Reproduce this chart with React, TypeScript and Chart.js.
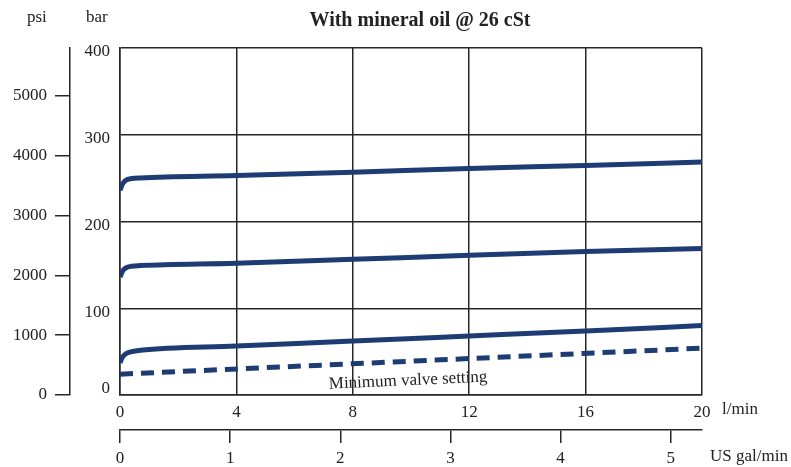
import React, { useEffect, useRef } from "react";
import { Chart, registerables } from "chart.js";

Chart.register(...registerables);

// Flow in l/min
const flowPts = [0, 0.08, 0.2, 0.4, 0.7, 4, 8, 12, 16, 20];
const pressTop = [236, 243, 247.5, 249.5, 250.2, 252.9, 256.8, 261.1, 264.6, 268.6];
const pressMid = [136, 142.5, 146.5, 148.5, 149.2, 151.9, 156.4, 161, 165.3, 169];
const pressLow = [37, 43.5, 47.5, 50, 51.7, 56.5, 62.2, 68, 73.8, 80];
const flowMin = [0, 20];
const pressMin = [24, 54];

const barTicks = [0, 100, 200, 300, 400];
const psiTicks = [0, 1000, 2000, 3000, 4000, 5000];
const lminTicks = [0, 4, 8, 12, 16, 20];
const galTicks = [0, 1, 2, 3, 4, 5];

const PSI_PER_BAR = 14.5038;
const L_PER_GAL = 3.78541;

const titleText = "With mineral oil @ 26 cSt";
const minLabel = "Minimum valve setting";

const NAVY = "#1e3c74";
const GRID = "#262626";
const TXT = "#222";
const FONT = "'Liberation Serif', 'Times New Roman', serif";
const FS = 17;

const toXY = (xs: number[], ys: number[]) => xs.map((x, i) => ({ x, y: ys[i] }));

const extras = {
  id: "extras",
  afterDraw(chart: any) {
    const ctx = chart.ctx;
    const xs = chart.scales.x;
    const ys = chart.scales.y;
    ctx.save();
    ctx.fillStyle = TXT;
    ctx.textBaseline = "middle";
    // title
    ctx.font = `bold 20px ${FONT}`;
    ctx.textAlign = "center";
    ctx.fillText(titleText, 420, 21);
    // unit headers
    ctx.font = `${FS}px ${FONT}`;
    ctx.textAlign = "left";
    ctx.fillText("psi", 27, 18);
    ctx.fillText("bar", 86, 18);
    ctx.fillText("l/min", 722, 410);
    ctx.fillText("US gal/min", 710, 457);
    // bar "0" label
    ctx.textAlign = "right";
    ctx.fillText("0", 110, ys.getPixelForValue(0) - 6);
    // minimum valve setting label along dashed line
    const x0 = xs.getPixelForValue(flowMin[0]);
    const y0 = ys.getPixelForValue(pressMin[0]);
    const x1 = xs.getPixelForValue(flowMin[1]);
    const y1 = ys.getPixelForValue(pressMin[1]);
    const ang = Math.atan2(y1 - y0, x1 - x0);
    ctx.translate(xs.getPixelForValue(9.9), ys.getPixelForValue(16.5));
    ctx.rotate(ang);
    ctx.textAlign = "center";
    ctx.fillText(minLabel, 0, 0);
    ctx.restore();
  },
};

export default function App() {
  const ref = useRef<HTMLCanvasElement>(null);
  useEffect(() => {
    if (!ref.current) return;
    const lineDs = (data: any, dashed = false) => ({
      data,
      borderColor: NAVY,
      backgroundColor: NAVY,
      borderWidth: 5,
      pointRadius: 0,
      cubicInterpolationMode: "monotone" as const,
      borderDash: dashed ? [13, 8] : [],
      borderCapStyle: "butt" as const,
      fill: false,
    });
    const tickFont = { family: FONT, size: FS };
    const chart = new Chart(ref.current, {
      type: "line",
      data: {
        datasets: [
          lineDs(toXY(flowPts, pressTop)),
          lineDs(toXY(flowPts, pressMid)),
          lineDs(toXY(flowPts, pressLow)),
          lineDs(toXY(flowMin, pressMin), true),
        ],
      },
      options: {
        responsive: false,
        animation: false,
        devicePixelRatio: 1,
        layout: { padding: { top: 48, right: 89, left: 0, bottom: 0 } },
        plugins: { legend: { display: false }, tooltip: { enabled: false }, title: { display: false } },
        scales: {
          x: {
            type: "linear",
            position: "bottom",
            weight: 0,
            min: 0,
            max: 20,
            afterBuildTicks: (s: any) => { s.ticks = lminTicks.map((v) => ({ value: v })); },
            afterFit: (s: any) => { s.height = 35; },
            grid: { color: GRID, lineWidth: 1.5, drawTicks: false },
            border: { color: GRID, width: 1.5 },
            ticks: { color: TXT, font: tickFont, padding: 7, maxRotation: 0, autoSkip: false },
          },
          gal: {
            type: "linear",
            position: "bottom",
            weight: 1,
            min: 0,
            max: 20 / L_PER_GAL,
            afterBuildTicks: (s: any) => { s.ticks = galTicks.map((v) => ({ value: v })); },
            afterFit: (s: any) => { s.height = 37; },
            grid: { drawOnChartArea: false, drawTicks: true, tickLength: 13, color: GRID, lineWidth: 1.5 },
            border: { color: GRID, width: 1.5 },
            ticks: { color: TXT, font: tickFont, padding: 5, maxRotation: 0, autoSkip: false },
          },
          y: {
            type: "linear",
            position: "left",
            weight: 0,
            min: 0,
            max: 400,
            afterBuildTicks: (s: any) => { s.ticks = barTicks.map((v) => ({ value: v })); },
            afterFit: (s: any) => { s.width = 50; },
            grid: { color: GRID, lineWidth: 1.5, drawTicks: false },
            border: { color: GRID, width: 1.5 },
            ticks: {
              color: TXT,
              font: tickFont,
              padding: 10,
              labelOffset: 4,
              callback: (v: any) => (v === 0 ? "" : String(v)),
            },
          },
          psi: {
            type: "linear",
            position: "left",
            weight: 1,
            min: 0,
            max: 400 * PSI_PER_BAR,
            afterBuildTicks: (s: any) => { s.ticks = psiTicks.map((v) => ({ value: v })); },
            afterFit: (s: any) => { s.width = 70; },
            grid: { drawOnChartArea: false, drawTicks: true, tickLength: 15, color: GRID, lineWidth: 1.5 },
            border: { color: GRID, width: 1.5 },
            ticks: { color: TXT, font: tickFont, padding: 8, callback: (v: any) => String(v) },
          },
        },
      },
      plugins: [extras],
    });
    return () => chart.destroy();
  }, []);
  return (
    <div style={{ position: "absolute", left: 0, top: 0, width: 791, height: 467, background: "#fff" }}>
      <canvas ref={ref} width={791} height={467} style={{ width: 791, height: 467, display: "block" }} />
    </div>
  );
}
